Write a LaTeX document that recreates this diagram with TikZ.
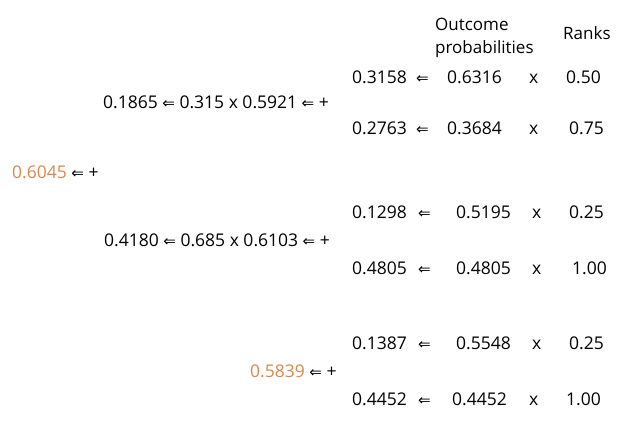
\documentclass[tikz,border=0pt]{standalone}
\usepackage{fontspec}
\setmainfont{Open Sans}
\newfontfamily\arrowfont{DejaVu Sans}
\usepackage{tikz}
\usetikzlibrary{positioning}
\definecolor{total}{RGB}{216,136,78}
\newcommand{\la}{{\arrowfont\fontsize{15}{15}\selectfont ⇐}}

\begin{document}
\begin{tikzpicture}[x=1pt,y=-1pt,
    every node/.style={font=\fontsize{17.5}{23}\selectfont, inner sep=0pt, anchor=base west}]
        \useasboundingbox (0,0) rectangle (619,426);

        %%%% Header =====================================
        \node[align=left, font=\fontsize{17}{23}\selectfont] (hprob) at (435,53) {Outcome\\probabilities};
        \node[font=\fontsize{17}{23}\selectfont] (hrank) at (563,39) {Ranks};

        %%%% First branch ===============================
        \node (b1) at (103,108) {0.1865 \la{} 0.315 x 0.5921 \la{} +};
        % Outcomes
        \node (r1p) at (352,83) {0.3158};   \node (r1a) at (416,83) {\la};
        \node (r1o) at (447,83) {0.6316};   \node (r1x) at (529,83) {x};
        \node (r1r) at (566,83) {0.50};
        \node (r2p) at (352,134) {0.2763};  \node (r2a) at (416,134) {\la};
        \node (r2o) at (447,134) {0.3684};  \node (r2x) at (529,134) {x};
        \node (r2r) at (569,134) {0.75};

        %%%% Total ======================================
        \node (tot) at (12,178) {\textcolor{total}{0.6045} \la{} +};

        %%%% Second branch ==============================
        \node (b2) at (104,246) {0.4180 \la{} 0.685 x 0.6103 \la{} +};
        % Outcomes
        \node (r3p) at (352,218) {0.1298};  \node (r3a) at (418,218) {\la};
        \node (r3o) at (456,218) {0.5195};  \node (r3x) at (532,218) {x};
        \node (r3r) at (569,218) {0.25};
        \node (r4p) at (352,274) {0.4805};  \node (r4a) at (418,274) {\la};
        \node (r4o) at (456,274) {0.4805};  \node (r4x) at (532,274) {x};
        \node (r4r) at (572,274) {1.00};

        %%%% Alternative ================================
        \node (alt) at (250,377) {\textcolor{total}{0.5839} \la{} +};
        % Outcomes
        \node (r5p) at (352,349) {0.1387};  \node (r5a) at (418,349) {\la};
        \node (r5o) at (456,349) {0.5548};  \node (r5x) at (532,349) {x};
        \node (r5r) at (569,349) {0.25};
        \node (r6p) at (352,405) {0.4452};  \node (r6a) at (418,405) {\la};
        \node (r6o) at (452,405) {0.4452};  \node (r6x) at (529,405) {x};
        \node (r6r) at (566,405) {1.00};
\end{tikzpicture}
\end{document}
